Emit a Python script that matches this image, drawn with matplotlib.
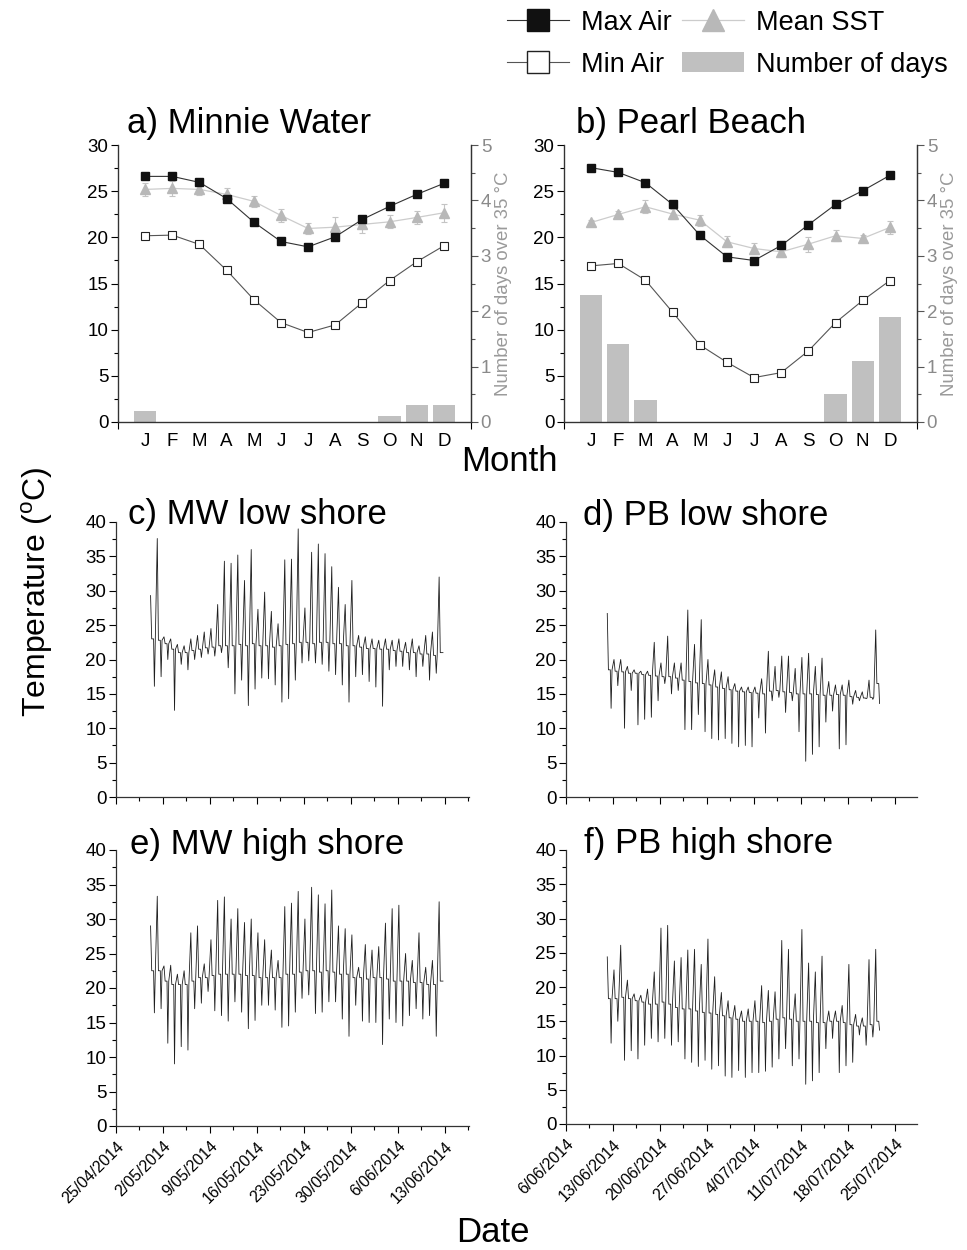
import numpy as np
import matplotlib
matplotlib.use('Agg')
import matplotlib.pyplot as plt
import matplotlib.dates as mdates
from matplotlib.lines import Line2D
from matplotlib.patches import Patch
from matplotlib.ticker import MultipleLocator, FixedLocator
from datetime import datetime

plt.rcParams['font.family'] = ['Liberation Sans', 'DejaVu Sans']
plt.rcParams['mathtext.fontset'] = 'custom'
plt.rcParams['mathtext.rm'] = 'Liberation Sans'

# ---------------- monthly climatology data ----------------
months = ['J', 'F', 'M', 'A', 'M', 'J', 'J', 'A', 'S', 'O', 'N', 'D']
mw_max_air = [26.6, 26.6, 25.95, 24.2, 21.65, 19.55, 18.97, 20.06, 21.94, 23.35, 24.65, 25.84]
mw_min_air = [20.17, 20.24, 19.23, 16.44, 13.26, 10.77, 9.69, 10.52, 12.94, 15.32, 17.35, 19.08]
mw_sst = [25.19, 25.3, 25.19, 24.65, 23.9, 22.37, 20.96, 21.1, 21.4, 21.68, 22.15, 22.66]
mw_sst_err = [0.7, 0.8, 0.6, 0.7, 0.6, 0.7, 0.6, 1.1, 0.9, 0.7, 0.7, 1.0]
mw_days = [0.2, 0, 0, 0, 0, 0, 0, 0, 0, 0.1, 0.3, 0.3]

pb_max_air = [27.54, 27.03, 25.91, 23.56, 20.24, 17.89, 17.49, 19.12, 21.36, 23.56, 25.05, 26.71]
pb_min_air = [16.91, 17.17, 15.36, 11.89, 8.35, 6.47, 4.81, 5.35, 7.7, 10.77, 13.16, 15.32]
pb_sst = [21.61, 22.48, 23.31, 22.52, 21.86, 19.52, 18.79, 18.43, 19.26, 20.17, 19.88, 21.07]
pb_sst_err = [0.3, 0.4, 0.7, 0.5, 0.6, 0.6, 0.6, 0.6, 0.8, 0.6, 0.4, 0.7]
pb_days = [2.3, 1.4, 0.4, 0, 0, 0, 0, 0, 0, 0.5, 1.1, 1.9]

# ---------------- logger data (daily peak / trough / baseline) ----------------
mw_date_labels = ['25/04/2014', '2/05/2014', '9/05/2014', '16/05/2014',
                  '23/05/2014', '30/05/2014', '6/06/2014', '13/06/2014']
pb_date_labels = ['6/06/2014', '13/06/2014', '20/06/2014', '27/06/2014',
                  '4/07/2014', '11/07/2014', '18/07/2014', '25/07/2014']

mw_first_day = 5   # days after 25/04/2014
pb_first_day = 6   # days after 6/06/2014

mw_low_peak = [29.3, 37.6, 23.3, 23.0, 22.2, 22.0, 23.0, 23.5, 24.0, 24.5,
               28.0, 34.3, 34.0, 35.2, 31.5, 36.0, 27.3, 29.8, 27.0, 25.2,
               34.5, 34.6, 39.0, 27.5, 35.6, 36.8, 35.4, 33.5, 30.5, 28.0,
               31.5, 23.5, 23.3, 23.0, 22.8, 23.0, 22.8, 23.0, 22.5, 23.0,
               22.0, 23.5, 24.0, 32.0]
mw_low_trough = [16.1, 17.5, 20.0, 12.6, 19.3, 18.5, 20.0, 20.3, 20.8, 20.5,
                 21.0, 18.8, 15.0, 17.0, 13.3, 15.7, 17.3, 17.2, 16.3, 13.8,
                 14.3, 17.0, 19.5, 19.8, 19.5, 19.3, 18.3, 17.8, 16.3, 13.8,
                 17.5, 17.8, 16.8, 16.0, 13.2, 18.5, 19.0, 19.0, 18.5, 17.5,
                 19.0, 17.0, 18.0, 21.0]
mw_low_base = [23.0, 22.8, 22.3, 21.5, 21.0, 21.0, 21.3, 21.5, 21.7, 21.8,
               22.0, 22.0, 22.0, 22.2, 22.0, 22.3, 22.0, 22.0, 21.8, 22.0,
               22.2, 22.3, 22.5, 22.5, 22.3, 22.5, 22.5, 22.3, 22.3, 22.0,
               22.0, 21.8, 21.6, 21.6, 21.5, 21.5, 21.3, 21.2, 21.0, 21.0,
               20.8, 20.8, 20.6, 21.0]

mw_high_peak = [29.0, 33.3, 23.2, 23.3, 22.0, 22.5, 28.0, 29.0, 23.5, 27.0,
                32.7, 33.2, 30.0, 31.5, 29.5, 30.0, 28.0, 27.0, 25.5, 24.0,
                31.8, 32.3, 34.0, 30.0, 34.6, 33.5, 32.2, 34.2, 29.0, 28.6,
                27.7, 23.0, 26.3, 25.5, 26.0, 29.4, 31.5, 32.0, 25.0, 24.0,
                28.0, 23.0, 24.0, 32.5]
mw_high_trough = [16.4, 17.0, 12.0, 9.0, 11.5, 11.0, 17.0, 17.8, 19.5, 16.7,
                  16.0, 15.2, 18.0, 16.5, 14.1, 15.3, 17.5, 17.5, 16.8, 14.3,
                  14.5, 16.5, 18.5, 19.0, 16.3, 16.5, 18.0, 18.0, 15.5, 13.0,
                  17.5, 15.2, 15.0, 15.0, 11.8, 15.5, 15.0, 14.5, 16.0, 17.0,
                  15.5, 16.0, 13.0, 21.0]
mw_high_base = [22.5, 22.5, 21.0, 20.5, 20.5, 20.5, 21.0, 21.5, 21.5, 21.8,
                22.0, 22.0, 22.0, 22.0, 21.8, 21.8, 21.5, 21.5, 21.5, 21.5,
                22.0, 22.0, 22.3, 22.5, 22.5, 22.3, 22.5, 22.3, 22.0, 22.0,
                21.5, 21.5, 21.3, 21.5, 21.5, 21.3, 21.0, 21.0, 21.0, 20.8,
                20.8, 20.5, 20.5, 21.0]

pb_low_peak = [26.7, 20.0, 20.0, 19.0, 18.5, 18.3, 18.3, 22.5, 19.5, 23.4,
               19.5, 19.5, 27.2, 22.2, 25.8, 20.0, 18.5, 18.2, 17.5, 16.5,
               16.0, 16.0, 16.0, 17.2, 21.2, 19.0, 20.5, 20.5, 18.7, 20.3,
               20.9, 19.0, 20.2, 16.8, 16.3, 16.3, 17.0, 15.5, 15.3, 17.0,
               24.3]
pb_low_trough = [12.9, 16.2, 10.0, 15.5, 10.5, 11.3, 11.6, 14.0, 16.5, 15.0,
                 15.5, 9.8, 9.8, 12.0, 9.5, 8.5, 8.3, 8.5, 7.8, 7.3,
                 7.5, 7.3, 11.5, 9.3, 14.0, 14.5, 12.3, 14.0, 9.5, 5.2,
                 6.2, 7.3, 10.9, 12.5, 7.0, 7.6, 13.5, 14.0, 14.3, 14.2,
                 13.6]
pb_low_base = [18.5, 18.3, 18.2, 18.0, 18.0, 17.8, 17.7, 17.6, 17.5, 17.5,
               17.3, 17.0, 16.8, 16.6, 16.5, 16.3, 16.0, 15.8, 15.6, 15.4,
               15.3, 15.2, 15.1, 15.0, 15.4, 15.5, 15.3, 15.2, 15.0, 15.0,
               15.0, 14.9, 14.8, 14.8, 14.9, 14.8, 14.6, 14.5, 14.4, 14.5,
               16.5]

pb_high_peak = [24.4, 22.5, 26.1, 21.0, 19.0, 18.8, 19.7, 22.2, 28.6, 29.0,
                23.8, 24.3, 25.4, 25.5, 23.3, 27.0, 21.5, 19.2, 18.0, 17.3,
                16.5, 16.8, 18.0, 20.2, 19.5, 19.3, 26.8, 25.5, 19.0, 28.4,
                23.5, 22.2, 24.5, 16.5, 16.5, 17.3, 23.3, 16.0, 15.5, 24.0,
                25.5]
pb_high_trough = [11.8, 15.0, 9.3, 10.7, 9.5, 11.5, 12.5, 12.0, 12.5, 11.5,
                  12.0, 9.5, 9.0, 8.4, 9.3, 8.0, 8.5, 7.0, 6.8, 7.8,
                  6.8, 7.5, 7.5, 7.7, 8.3, 9.5, 11.0, 8.5, 9.5, 5.8,
                  6.3, 7.5, 11.0, 12.5, 7.5, 8.5, 9.0, 13.0, 11.5, 12.7,
                  13.7]
pb_high_base = [18.3, 18.3, 18.5, 18.3, 18.0, 17.8, 17.5, 17.5, 17.8, 17.5,
                17.0, 16.8, 16.8, 16.5, 16.3, 16.2, 16.0, 15.8, 15.5, 15.3,
                15.0, 15.0, 15.0, 14.8, 15.0, 15.3, 15.5, 15.3, 15.0, 15.0,
                15.0, 14.8, 14.8, 15.0, 15.0, 14.8, 14.5, 14.3, 14.3, 14.5,
                15.0]

# ---------------- figure ----------------
W, H = 967, 1250
fig = plt.figure(figsize=(W / 100, H / 100), dpi=100)


def px_axes(left, top, right, bottom):
    return fig.add_axes([left / W, 1 - bottom / H, (right - left) / W, (bottom - top) / H])


def fig_text(x, y, s, **kw):
    fig.text(x / W, 1 - y / H, s, **kw)


TICK_FS = 13.5


def style_left(ax, ymax, major, minor):
    ax.set_ylim(0, ymax)
    ax.yaxis.set_major_locator(MultipleLocator(major))
    ax.yaxis.set_minor_locator(MultipleLocator(minor))
    ax.tick_params(axis='y', which='major', direction='out', length=5, width=0.8, labelsize=TICK_FS, pad=2)
    ax.tick_params(axis='y', which='minor', direction='out', length=3, width=0.8)
    ax.spines['top'].set_visible(False)
    for s in ['left', 'bottom', 'right']:
        ax.spines[s].set_linewidth(0.9)
        ax.spines[s].set_color('#333333')


def monthly_panel(ax, title_xy, title, max_air, min_air, sst, sst_err, days):
    x = np.arange(1, len(months) + 1)
    ax2 = ax.twinx()
    ax2.bar(x, days, width=0.82, color='#c0c0c0', zorder=1)
    ax2.set_ylim(0, 5)
    ax2.yaxis.set_major_locator(MultipleLocator(1))
    ax2.yaxis.set_minor_locator(MultipleLocator(0.5))
    ax2.tick_params(axis='y', which='major', direction='out', length=5, width=0.8,
                    labelsize=TICK_FS, labelcolor='#8a8a8a', color='#555555', pad=2)
    ax2.tick_params(axis='y', which='minor', direction='out', length=3, width=0.8, color='#555555')
    ax2.set_ylabel('Number of days over 35 °C', color='#9a9a9a', fontsize=13.4, labelpad=3)
    ax2.spines['top'].set_visible(False)
    ax2.spines['right'].set_color('#444444')
    ax2.spines['right'].set_linewidth(0.9)
    ax2.patch.set_visible(False)

    ax.set_zorder(ax2.get_zorder() + 1)
    ax.patch.set_visible(False)
    ax.errorbar(x, sst, yerr=sst_err, fmt='none', ecolor='#c4c4c4', elinewidth=0.8, capsize=2, capthick=0.8, zorder=2)
    ax.plot(x, sst, color='#cccccc', lw=0.9, marker='^', ms=7.5, mfc='#b8b8b8', mec='#b8b8b8', zorder=3)
    ax.plot(x, max_air, color='#333333', lw=0.8, marker='s', ms=6.3, mfc='#111111', mec='#111111', zorder=4)
    ax.plot(x, min_air, color='#555555', lw=0.8, marker='s', ms=6.3, mfc='white', mec='#222222', mew=0.8, zorder=4)
    ax.set_xlim(0, 13)
    style_left(ax, 30, 5, 2.5)
    ax.set_xticks(x)
    ax.set_xticklabels(months)
    ax.xaxis.set_minor_locator(FixedLocator([0, 13]))
    ax.tick_params(axis='x', which='major', length=0, labelsize=TICK_FS, pad=8)
    ax.tick_params(axis='x', which='minor', direction='out', length=5, width=0.8)
    fig_text(title_xy[0], title_xy[1], title, fontsize=25, va='baseline', ha='left')


def build_series(first_day, peak, trough, base):
    t, v = [], []
    for i, (p, tr, b) in enumerate(zip(peak, trough, base)):
        d = first_day + i
        t += [d + 0.15, d + 0.32, d + 0.6, d + 0.72, d + 0.86]
        v += [p, b, b, tr, b]
    return np.array(t[:-1]), np.array(v[:-1])


def logger_panel(ax, title_xy, title, labels, first_day, peak, trough, base, span, show_dates):
    ticks = np.array([mdates.date2num(datetime.strptime(s, '%d/%m/%Y')) for s in labels])
    t, v = build_series(first_day, peak, trough, base)
    ax.plot(ticks[0] + t, v, color='#1e1e1e', lw=0.6)
    ax.set_xlim(ticks[0], ticks[0] + span)
    style_left(ax, 40, 5, 2.5)
    ax.spines['right'].set_visible(False)
    ax.set_xticks(ticks)
    ax.xaxis.set_minor_locator(FixedLocator(ticks + 3.5))
    ax.tick_params(axis='x', which='major', direction='out', length=5, width=0.8)
    ax.tick_params(axis='x', which='minor', direction='out', length=3, width=0.8)
    if show_dates:
        ax.set_xticklabels(labels, rotation=45, ha='right', va='top', rotation_mode='anchor', fontsize=11.5)
        ax.tick_params(axis='x', which='major', pad=4)
    else:
        ax.set_xticklabels([])
    fig_text(title_xy[0], title_xy[1], title, fontsize=25, va='baseline', ha='left')


ax_a = px_axes(118, 145, 471, 422)
monthly_panel(ax_a, (127, 133), 'a) Minnie Water', mw_max_air, mw_min_air, mw_sst, mw_sst_err, mw_days)
ax_b = px_axes(564, 145, 917, 422)
monthly_panel(ax_b, (576, 133), 'b) Pearl Beach', pb_max_air, pb_min_air, pb_sst, pb_sst_err, pb_days)

ax_c = px_axes(116, 522, 469, 797)
logger_panel(ax_c, (128, 524), 'c) MW low shore', mw_date_labels, mw_first_day,
             mw_low_peak, mw_low_trough, mw_low_base, 52.6, False)
ax_d = px_axes(566, 522, 917, 797)
logger_panel(ax_d, (583, 525), 'd) PB low shore', pb_date_labels, pb_first_day,
             pb_low_peak, pb_low_trough, pb_low_base, 52.3, False)
ax_e = px_axes(116, 850, 469, 1126)
logger_panel(ax_e, (130, 854), 'e) MW high shore', mw_date_labels, mw_first_day,
             mw_high_peak, mw_high_trough, mw_high_base, 52.6, True)
ax_f = px_axes(566, 850, 917, 1124)
logger_panel(ax_f, (584, 853), 'f) PB high shore', pb_date_labels, pb_first_day,
             pb_high_peak, pb_high_trough, pb_high_base, 52.3, True)

# shared labels
fig_text(509, 462, 'Month', fontsize=25, ha='center', va='center')
fig_text(493, 1232, 'Date', fontsize=25, ha='center', va='center')
fig_text(37, 592, 'Temperature ($^{\\mathregular{o}}$C)', fontsize=23, rotation=90, ha='center', va='center')

# legend
handles = [
    Line2D([], [], color='#333333', lw=0.8, marker='s', ms=15.5, mfc='#111111', mec='#111111'),
    Line2D([], [], color='#555555', lw=0.8, marker='s', ms=15.5, mfc='white', mec='#222222', mew=1.0),
    Line2D([], [], color='#cccccc', lw=0.9, marker='^', ms=15.5, mfc='#b8b8b8', mec='#b8b8b8'),
    Patch(facecolor='#c0c0c0', edgecolor='none'),
]
leg_labels = ['Max Air', 'Min Air', 'Mean SST', 'Number of days']
fig.legend(handles, leg_labels, ncol=2, loc='upper left', bbox_to_anchor=(507 / W, 1 - 10 / H),
           frameon=False, fontsize=19.5, handlelength=2.3, handletextpad=0.45, columnspacing=0.35,
           labelspacing=0.58, borderpad=0, borderaxespad=0, handleheight=0.75)

fig.savefig('out.png', dpi=100)
